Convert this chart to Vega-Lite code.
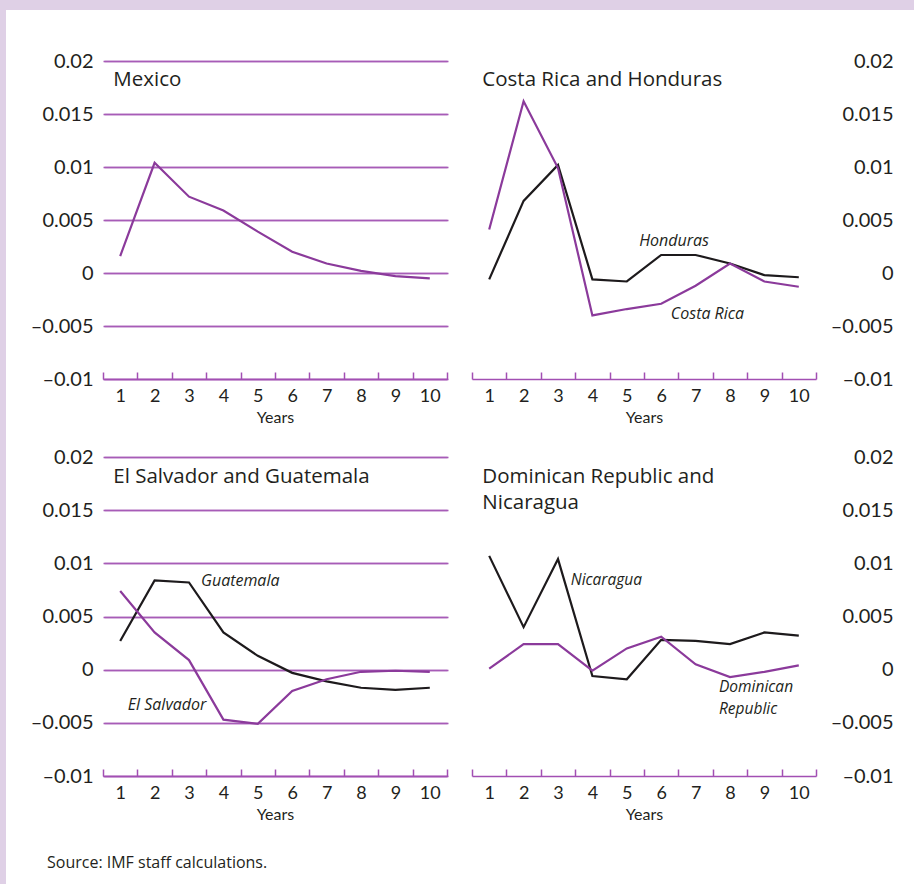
{
  "$schema": "https://vega.github.io/schema/vega-lite/v6.json",
  "width": 908,
  "height": 874,
  "autosize": {"type": "none"},
  "padding": {"left": 6, "top": 10, "right": 0, "bottom": 0},
  "background": "#dfd0e6",
  "title": {
    "text": "Source: IMF staff calculations.",
    "orient": "bottom",
    "anchor": "start",
    "frame": "group",
    "offset": -16,
    "dx": 41,
    "baseline": "alphabetic",
    "font": "Open Sans",
    "fontSize": 16,
    "fontWeight": "normal",
    "color": "#231f20"
  },
  "config": {
    "font": "Lato",
    "view": {"fill": "white", "stroke": null},
    "text": {"color": "#231f20", "font": "Open Sans"}
  },
  "datasets": {
    "series": [
      {"panel": "A", "country": "Mexico", "year": 1, "value": 0.0016},
      {"panel": "A", "country": "Mexico", "year": 2, "value": 0.0104},
      {"panel": "A", "country": "Mexico", "year": 3, "value": 0.0072},
      {"panel": "A", "country": "Mexico", "year": 4, "value": 0.0059},
      {"panel": "A", "country": "Mexico", "year": 5, "value": 0.0039},
      {"panel": "A", "country": "Mexico", "year": 6, "value": 0.0020},
      {"panel": "A", "country": "Mexico", "year": 7, "value": 0.0009},
      {"panel": "A", "country": "Mexico", "year": 8, "value": 0.0002},
      {"panel": "A", "country": "Mexico", "year": 9, "value": -0.0003},
      {"panel": "A", "country": "Mexico", "year": 10, "value": -0.0005},

      {"panel": "B", "country": "Honduras", "year": 1, "value": -0.0006},
      {"panel": "B", "country": "Honduras", "year": 2, "value": 0.0068},
      {"panel": "B", "country": "Honduras", "year": 3, "value": 0.0102},
      {"panel": "B", "country": "Honduras", "year": 4, "value": -0.0006},
      {"panel": "B", "country": "Honduras", "year": 5, "value": -0.0008},
      {"panel": "B", "country": "Honduras", "year": 6, "value": 0.0017},
      {"panel": "B", "country": "Honduras", "year": 7, "value": 0.0017},
      {"panel": "B", "country": "Honduras", "year": 8, "value": 0.0009},
      {"panel": "B", "country": "Honduras", "year": 9, "value": -0.0002},
      {"panel": "B", "country": "Honduras", "year": 10, "value": -0.0004},
      {"panel": "B", "country": "Costa Rica", "year": 1, "value": 0.0041},
      {"panel": "B", "country": "Costa Rica", "year": 2, "value": 0.0162},
      {"panel": "B", "country": "Costa Rica", "year": 3, "value": 0.0099},
      {"panel": "B", "country": "Costa Rica", "year": 4, "value": -0.0040},
      {"panel": "B", "country": "Costa Rica", "year": 5, "value": -0.0034},
      {"panel": "B", "country": "Costa Rica", "year": 6, "value": -0.0029},
      {"panel": "B", "country": "Costa Rica", "year": 7, "value": -0.0012},
      {"panel": "B", "country": "Costa Rica", "year": 8, "value": 0.0009},
      {"panel": "B", "country": "Costa Rica", "year": 9, "value": -0.0008},
      {"panel": "B", "country": "Costa Rica", "year": 10, "value": -0.0013},

      {"panel": "C", "country": "Guatemala", "year": 1, "value": 0.0027},
      {"panel": "C", "country": "Guatemala", "year": 2, "value": 0.0084},
      {"panel": "C", "country": "Guatemala", "year": 3, "value": 0.0082},
      {"panel": "C", "country": "Guatemala", "year": 4, "value": 0.0035},
      {"panel": "C", "country": "Guatemala", "year": 5, "value": 0.0013},
      {"panel": "C", "country": "Guatemala", "year": 6, "value": -0.0003},
      {"panel": "C", "country": "Guatemala", "year": 7, "value": -0.0011},
      {"panel": "C", "country": "Guatemala", "year": 8, "value": -0.0017},
      {"panel": "C", "country": "Guatemala", "year": 9, "value": -0.0019},
      {"panel": "C", "country": "Guatemala", "year": 10, "value": -0.0017},
      {"panel": "C", "country": "El Salvador", "year": 1, "value": 0.0074},
      {"panel": "C", "country": "El Salvador", "year": 2, "value": 0.0035},
      {"panel": "C", "country": "El Salvador", "year": 3, "value": 0.0009},
      {"panel": "C", "country": "El Salvador", "year": 4, "value": -0.0047},
      {"panel": "C", "country": "El Salvador", "year": 5, "value": -0.0051},
      {"panel": "C", "country": "El Salvador", "year": 6, "value": -0.0020},
      {"panel": "C", "country": "El Salvador", "year": 7, "value": -0.0009},
      {"panel": "C", "country": "El Salvador", "year": 8, "value": -0.0002},
      {"panel": "C", "country": "El Salvador", "year": 9, "value": -0.0001},
      {"panel": "C", "country": "El Salvador", "year": 10, "value": -0.0002},

      {"panel": "D", "country": "Nicaragua", "year": 1, "value": 0.0107},
      {"panel": "D", "country": "Nicaragua", "year": 2, "value": 0.0040},
      {"panel": "D", "country": "Nicaragua", "year": 3, "value": 0.0104},
      {"panel": "D", "country": "Nicaragua", "year": 4, "value": -0.0006},
      {"panel": "D", "country": "Nicaragua", "year": 5, "value": -0.0009},
      {"panel": "D", "country": "Nicaragua", "year": 6, "value": 0.0028},
      {"panel": "D", "country": "Nicaragua", "year": 7, "value": 0.0027},
      {"panel": "D", "country": "Nicaragua", "year": 8, "value": 0.0024},
      {"panel": "D", "country": "Nicaragua", "year": 9, "value": 0.0035},
      {"panel": "D", "country": "Nicaragua", "year": 10, "value": 0.0032},
      {"panel": "D", "country": "Dominican Republic", "year": 1, "value": 0.0001},
      {"panel": "D", "country": "Dominican Republic", "year": 2, "value": 0.0024},
      {"panel": "D", "country": "Dominican Republic", "year": 3, "value": 0.0024},
      {"panel": "D", "country": "Dominican Republic", "year": 4, "value": -0.0001},
      {"panel": "D", "country": "Dominican Republic", "year": 5, "value": 0.0020},
      {"panel": "D", "country": "Dominican Republic", "year": 6, "value": 0.0031},
      {"panel": "D", "country": "Dominican Republic", "year": 7, "value": 0.0005},
      {"panel": "D", "country": "Dominican Republic", "year": 8, "value": -0.0007},
      {"panel": "D", "country": "Dominican Republic", "year": 9, "value": -0.0002},
      {"panel": "D", "country": "Dominican Republic", "year": 10, "value": 0.0004}
    ],
    "notes": [
      {"panel": "A", "kind": "title", "text": "Mexico", "year": 0.8, "value": 0.0176},
      {"panel": "B", "kind": "title", "text": "Costa Rica and Honduras", "year": 0.8, "value": 0.0176},
      {"panel": "C", "kind": "title", "text": "El Salvador and Guatemala", "year": 0.8, "value": 0.0176},
      {"panel": "D", "kind": "title", "text": "Dominican Republic and|Nicaragua", "year": 0.8, "value": 0.0176},
      {"panel": "B", "kind": "label", "text": "Honduras", "year": 5.36, "value": 0.00255},
      {"panel": "B", "kind": "label", "text": "Costa Rica", "year": 6.28, "value": -0.0043},
      {"panel": "C", "kind": "label", "text": "Guatemala", "year": 3.35, "value": 0.0079},
      {"panel": "C", "kind": "label", "text": "El Salvador", "year": 1.22, "value": -0.0038},
      {"panel": "D", "kind": "label", "text": "Nicaragua", "year": 3.37, "value": 0.0080},
      {"panel": "D", "kind": "label", "text": "Dominican|Republic", "year": 7.68, "value": -0.0021}
    ]
  },
  "layer": [
    {
      "encoding": {
        "x": {"field": "year", "type": "quantitative",
          "scale": {"domain": [0.5, 10.5], "range": [97, 441], "nice": false, "zero": false},
          "axis": {"orient": "bottom", "offset": -505,
            "values": [0.5, 1, 1.5, 2, 2.5, 3, 3.5, 4, 4.5, 5, 5.5, 6, 6.5, 7, 7.5, 8, 8.5, 9, 9.5, 10, 10.5],
            "labelExpr": "datum.value % 1 === 0 ? '' + datum.value : ''",
            "tickOpacity": {"condition": {"test": "datum.value % 1 === 0", "value": 0}, "value": 1},
            "tickSize": -7, "tickWidth": 1.5, "tickColor": "#a24fb3",
            "domainColor": "#a24fb3", "domainWidth": 1.5, "grid": false,
            "labelFontSize": 18, "labelPadding": 15, "labelColor": "#231f20",
            "labelFlush": false, "labelOverlap": false,
            "title": "Years", "titleFontSize": 16, "titleFontWeight": "normal", "titleColor": "#231f20", "titlePadding": 4}},
        "y": {"field": "value", "type": "quantitative",
          "scale": {"domain": [-0.01, 0.02], "range": [369, 51], "nice": false, "zero": false},
          "axis": {"orient": "left", "offset": -97,
            "values": [-0.01, -0.005, 0, 0.005, 0.01, 0.015, 0.02],
            "labelExpr": "datum.value === 0 ? '0' : datum.value < 0 ? '–' + format(-datum.value, '') : format(datum.value, '')",
            "domain": false, "ticks": false, "grid": true, "gridColor": "#a75cb7", "gridWidth": 1.3,
            "labelFontSize": 20, "labelPadding": 10, "labelColor": "#231f20", "labelOverlap": false, "title": null}}
      },
      "layer": [
        {"data": {"name": "series"}, "transform": [{"filter": "datum.panel === 'A'"}],
          "mark": {"type": "line", "strokeWidth": 2.2},
          "encoding": {"color": {"field": "country", "type": "nominal", "legend": null,
            "scale": {"domain": ["Mexico", "Costa Rica", "Honduras", "El Salvador", "Guatemala", "Dominican Republic", "Nicaragua"],
              "range": ["#8b3a9b", "#8b3a9b", "#1d1a1c", "#8b3a9b", "#1d1a1c", "#8b3a9b", "#1d1a1c"]}}}},
        {"data": {"name": "notes"}, "transform": [{"filter": "datum.panel === 'A' && datum.kind === 'title'"}],
          "mark": {"type": "text", "align": "left", "baseline": "alphabetic", "fontSize": 20.5, "lineBreak": "|", "lineHeight": 26, "fill": "white", "stroke": "white", "strokeWidth": 10, "strokeJoin": "round"},
          "encoding": {"text": {"field": "text"}}},
        {"data": {"name": "notes"}, "transform": [{"filter": "datum.panel === 'A' && datum.kind === 'title'"}],
          "mark": {"type": "text", "align": "left", "baseline": "alphabetic", "fontSize": 20.5, "lineBreak": "|", "lineHeight": 26, "color": "#231f20"},
          "encoding": {"text": {"field": "text"}}}
      ]
    },
    {
      "encoding": {
        "x": {"field": "year", "type": "quantitative",
          "scale": {"domain": [0.5, 10.5], "range": [466, 810], "nice": false, "zero": false},
          "axis": {"orient": "bottom", "offset": -505,
            "values": [0.5, 1, 1.5, 2, 2.5, 3, 3.5, 4, 4.5, 5, 5.5, 6, 6.5, 7, 7.5, 8, 8.5, 9, 9.5, 10, 10.5],
            "labelExpr": "datum.value % 1 === 0 ? '' + datum.value : ''",
            "tickOpacity": {"condition": {"test": "datum.value % 1 === 0", "value": 0}, "value": 1},
            "tickSize": -7, "tickWidth": 1.5, "tickColor": "#a24fb3",
            "domainColor": "#a24fb3", "domainWidth": 1.5, "grid": false,
            "labelFontSize": 18, "labelPadding": 15, "labelColor": "#231f20",
            "labelFlush": false, "labelOverlap": false,
            "title": "Years", "titleFontSize": 16, "titleFontWeight": "normal", "titleColor": "#231f20", "titlePadding": 4}},
        "y": {"field": "value", "type": "quantitative",
          "scale": {"domain": [-0.01, 0.02], "range": [369, 51], "nice": false, "zero": false},
          "axis": {"orient": "right", "offset": -98,
            "values": [-0.01, -0.005, 0, 0.005, 0.01, 0.015, 0.02],
            "labelExpr": "datum.value === 0 ? '0' : datum.value < 0 ? '–' + format(-datum.value, '') : format(datum.value, '')",
            "domain": false, "ticks": false, "grid": true, "gridColor": "#a75cb7", "gridWidth": 1.3,
            "labelFontSize": 20, "labelPadding": 77, "labelAlign": "right", "labelColor": "#231f20", "labelOverlap": false, "title": null}}
      },
      "layer": [
        {"data": {"name": "series"}, "transform": [{"filter": "datum.panel === 'B'"}],
          "mark": {"type": "line", "strokeWidth": 2.2},
          "encoding": {"color": {"field": "country", "type": "nominal", "legend": null,
            "scale": {"domain": ["Mexico", "Costa Rica", "Honduras", "El Salvador", "Guatemala", "Dominican Republic", "Nicaragua"],
              "range": ["#8b3a9b", "#8b3a9b", "#1d1a1c", "#8b3a9b", "#1d1a1c", "#8b3a9b", "#1d1a1c"]}}}},
        {"data": {"name": "notes"}, "transform": [{"filter": "datum.panel === 'B' && datum.kind === 'title'"}],
          "mark": {"type": "text", "align": "left", "baseline": "alphabetic", "fontSize": 20.5, "lineBreak": "|", "lineHeight": 26, "fill": "white", "stroke": "white", "strokeWidth": 10, "strokeJoin": "round"},
          "encoding": {"text": {"field": "text"}}},
        {"data": {"name": "notes"}, "transform": [{"filter": "datum.panel === 'B' && datum.kind === 'title'"}],
          "mark": {"type": "text", "align": "left", "baseline": "alphabetic", "fontSize": 20.5, "lineBreak": "|", "lineHeight": 26, "color": "#231f20"},
          "encoding": {"text": {"field": "text"}}},
        {"data": {"name": "notes"}, "transform": [{"filter": "datum.panel === 'B' && datum.kind === 'label'"}],
          "mark": {"type": "text", "align": "left", "baseline": "alphabetic", "fontSize": 16, "fontStyle": "italic", "lineBreak": "|", "lineHeight": 22, "color": "#231f20"},
          "encoding": {"text": {"field": "text"}}}
      ]
    },
    {
      "encoding": {
        "x": {"field": "year", "type": "quantitative",
          "scale": {"domain": [0.5, 10.5], "range": [97, 441], "nice": false, "zero": false},
          "axis": {"orient": "bottom", "offset": -108,
            "values": [0.5, 1, 1.5, 2, 2.5, 3, 3.5, 4, 4.5, 5, 5.5, 6, 6.5, 7, 7.5, 8, 8.5, 9, 9.5, 10, 10.5],
            "labelExpr": "datum.value % 1 === 0 ? '' + datum.value : ''",
            "tickOpacity": {"condition": {"test": "datum.value % 1 === 0", "value": 0}, "value": 1},
            "tickSize": -7, "tickWidth": 1.5, "tickColor": "#a24fb3",
            "domainColor": "#a24fb3", "domainWidth": 1.5, "grid": false,
            "labelFontSize": 18, "labelPadding": 15, "labelColor": "#231f20",
            "labelFlush": false, "labelOverlap": false,
            "title": "Years", "titleFontSize": 16, "titleFontWeight": "normal", "titleColor": "#231f20", "titlePadding": 4}},
        "y": {"field": "value", "type": "quantitative",
          "scale": {"domain": [-0.01, 0.02], "range": [766, 447], "nice": false, "zero": false},
          "axis": {"orient": "left", "offset": -97,
            "values": [-0.01, -0.005, 0, 0.005, 0.01, 0.015, 0.02],
            "labelExpr": "datum.value === 0 ? '0' : datum.value < 0 ? '–' + format(-datum.value, '') : format(datum.value, '')",
            "domain": false, "ticks": false, "grid": true, "gridColor": "#a75cb7", "gridWidth": 1.3,
            "labelFontSize": 20, "labelPadding": 10, "labelColor": "#231f20", "labelOverlap": false, "title": null}}
      },
      "layer": [
        {"data": {"name": "series"}, "transform": [{"filter": "datum.panel === 'C'"}],
          "mark": {"type": "line", "strokeWidth": 2.2},
          "encoding": {"color": {"field": "country", "type": "nominal", "legend": null,
            "scale": {"domain": ["Mexico", "Costa Rica", "Honduras", "El Salvador", "Guatemala", "Dominican Republic", "Nicaragua"],
              "range": ["#8b3a9b", "#8b3a9b", "#1d1a1c", "#8b3a9b", "#1d1a1c", "#8b3a9b", "#1d1a1c"]}}}},
        {"data": {"name": "notes"}, "transform": [{"filter": "datum.panel === 'C' && datum.kind === 'title'"}],
          "mark": {"type": "text", "align": "left", "baseline": "alphabetic", "fontSize": 20.5, "lineBreak": "|", "lineHeight": 26, "fill": "white", "stroke": "white", "strokeWidth": 10, "strokeJoin": "round"},
          "encoding": {"text": {"field": "text"}}},
        {"data": {"name": "notes"}, "transform": [{"filter": "datum.panel === 'C' && datum.kind === 'title'"}],
          "mark": {"type": "text", "align": "left", "baseline": "alphabetic", "fontSize": 20.5, "lineBreak": "|", "lineHeight": 26, "color": "#231f20"},
          "encoding": {"text": {"field": "text"}}},
        {"data": {"name": "notes"}, "transform": [{"filter": "datum.panel === 'C' && datum.kind === 'label'"}],
          "mark": {"type": "text", "align": "left", "baseline": "alphabetic", "fontSize": 16, "fontStyle": "italic", "lineBreak": "|", "lineHeight": 22, "color": "#231f20"},
          "encoding": {"text": {"field": "text"}}}
      ]
    },
    {
      "encoding": {
        "x": {"field": "year", "type": "quantitative",
          "scale": {"domain": [0.5, 10.5], "range": [466, 810], "nice": false, "zero": false},
          "axis": {"orient": "bottom", "offset": -108,
            "values": [0.5, 1, 1.5, 2, 2.5, 3, 3.5, 4, 4.5, 5, 5.5, 6, 6.5, 7, 7.5, 8, 8.5, 9, 9.5, 10, 10.5],
            "labelExpr": "datum.value % 1 === 0 ? '' + datum.value : ''",
            "tickOpacity": {"condition": {"test": "datum.value % 1 === 0", "value": 0}, "value": 1},
            "tickSize": -7, "tickWidth": 1.5, "tickColor": "#a24fb3",
            "domainColor": "#a24fb3", "domainWidth": 1.5, "grid": false,
            "labelFontSize": 18, "labelPadding": 15, "labelColor": "#231f20",
            "labelFlush": false, "labelOverlap": false,
            "title": "Years", "titleFontSize": 16, "titleFontWeight": "normal", "titleColor": "#231f20", "titlePadding": 4}},
        "y": {"field": "value", "type": "quantitative",
          "scale": {"domain": [-0.01, 0.02], "range": [766, 447], "nice": false, "zero": false},
          "axis": {"orient": "right", "offset": -98,
            "values": [-0.01, -0.005, 0, 0.005, 0.01, 0.015, 0.02],
            "labelExpr": "datum.value === 0 ? '0' : datum.value < 0 ? '–' + format(-datum.value, '') : format(datum.value, '')",
            "domain": false, "ticks": false, "grid": true, "gridColor": "#a75cb7", "gridWidth": 1.3,
            "labelFontSize": 20, "labelPadding": 77, "labelAlign": "right", "labelColor": "#231f20", "labelOverlap": false, "title": null}}
      },
      "layer": [
        {"data": {"name": "series"}, "transform": [{"filter": "datum.panel === 'D'"}],
          "mark": {"type": "line", "strokeWidth": 2.2},
          "encoding": {"color": {"field": "country", "type": "nominal", "legend": null,
            "scale": {"domain": ["Mexico", "Costa Rica", "Honduras", "El Salvador", "Guatemala", "Dominican Republic", "Nicaragua"],
              "range": ["#8b3a9b", "#8b3a9b", "#1d1a1c", "#8b3a9b", "#1d1a1c", "#8b3a9b", "#1d1a1c"]}}}},
        {"data": {"name": "notes"}, "transform": [{"filter": "datum.panel === 'D' && datum.kind === 'title'"}],
          "mark": {"type": "text", "align": "left", "baseline": "alphabetic", "fontSize": 20.5, "lineBreak": "|", "lineHeight": 26, "fill": "white", "stroke": "white", "strokeWidth": 10, "strokeJoin": "round"},
          "encoding": {"text": {"field": "text"}}},
        {"data": {"name": "notes"}, "transform": [{"filter": "datum.panel === 'D' && datum.kind === 'title'"}],
          "mark": {"type": "text", "align": "left", "baseline": "alphabetic", "fontSize": 20.5, "lineBreak": "|", "lineHeight": 26, "color": "#231f20"},
          "encoding": {"text": {"field": "text"}}},
        {"data": {"name": "notes"}, "transform": [{"filter": "datum.panel === 'D' && datum.kind === 'label'"}],
          "mark": {"type": "text", "align": "left", "baseline": "alphabetic", "fontSize": 15.5, "fontStyle": "italic", "lineBreak": "|", "lineHeight": 22, "color": "#231f20"},
          "encoding": {"text": {"field": "text"}}}
      ]
    }
  ],
  "resolve": {
    "scale": {"x": "independent", "y": "independent"},
    "axis": {"x": "independent", "y": "independent"}
  }
}
